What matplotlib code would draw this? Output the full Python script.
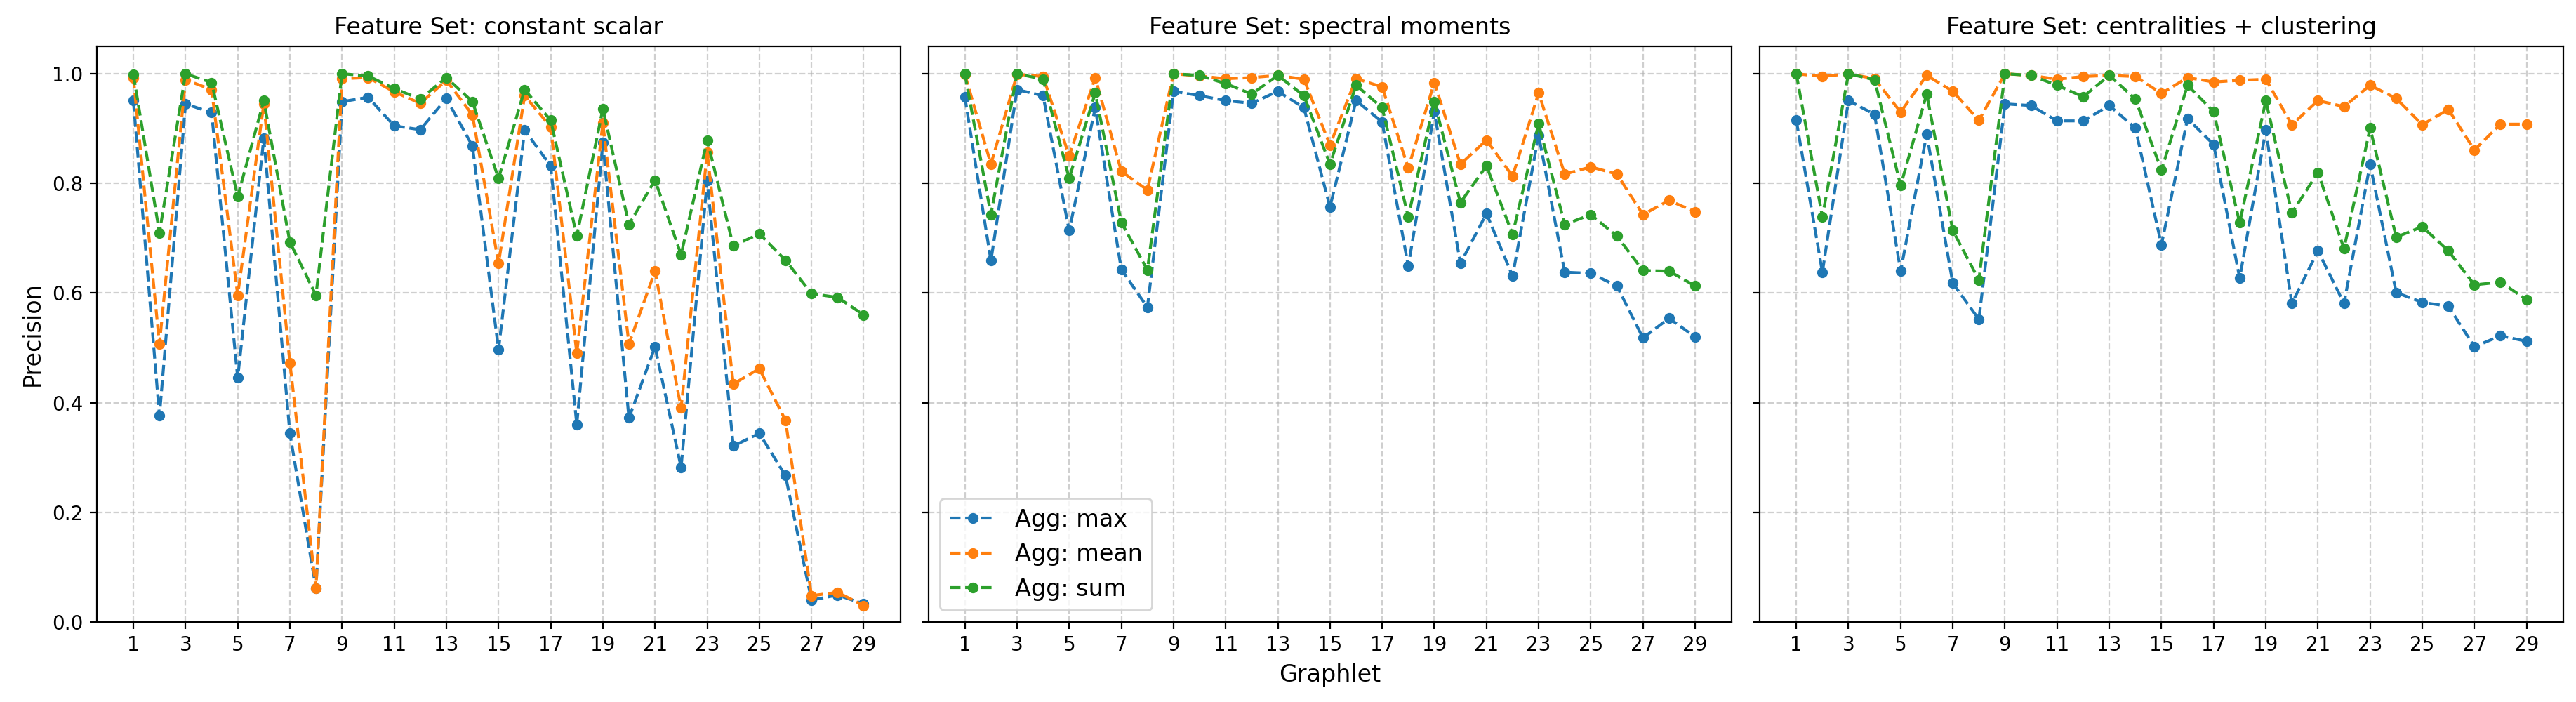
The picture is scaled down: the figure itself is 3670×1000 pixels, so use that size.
import matplotlib
matplotlib.use("Agg")
import matplotlib.pyplot as plt


# Graphlet ids 1..29
graphlets = list(range(1, 30))

feature_sets = ["constant scalar", "spectral moments", "centralities + clustering"]
aggs = ["max", "mean", "sum"]

# constant scalar
const_max = [0.951, 0.376, 0.945, 0.929, 0.445, 0.882, 0.344, 0.061, 0.949, 0.957,
             0.905, 0.898, 0.955, 0.868, 0.497, 0.897, 0.832, 0.360, 0.874, 0.372,
             0.502, 0.282, 0.805, 0.321, 0.344, 0.267, 0.040, 0.049, 0.033]
const_mean = [0.993, 0.507, 0.989, 0.971, 0.596, 0.945, 0.473, 0.061, 0.991, 0.993,
              0.967, 0.946, 0.988, 0.925, 0.654, 0.960, 0.903, 0.490, 0.910, 0.507,
              0.640, 0.390, 0.857, 0.434, 0.462, 0.368, 0.048, 0.054, 0.030]
const_sum = [0.999, 0.710, 1.000, 0.984, 0.776, 0.951, 0.693, 0.596, 1.000, 0.996,
             0.973, 0.954, 0.993, 0.949, 0.809, 0.971, 0.915, 0.704, 0.936, 0.725,
             0.806, 0.670, 0.879, 0.686, 0.708, 0.660, 0.599, 0.592, 0.560]

# spectral moments
spec_max = [0.958, 0.659, 0.971, 0.960, 0.714, 0.938, 0.643, 0.574, 0.968, 0.960,
            0.951, 0.946, 0.968, 0.938, 0.757, 0.951, 0.912, 0.649, 0.931, 0.654,
            0.745, 0.631, 0.888, 0.638, 0.636, 0.613, 0.518, 0.554, 0.520]
spec_mean = [0.999, 0.835, 0.999, 0.995, 0.850, 0.993, 0.822, 0.788, 1.000, 0.996,
             0.991, 0.993, 0.997, 0.990, 0.870, 0.991, 0.976, 0.828, 0.984, 0.835,
             0.879, 0.813, 0.965, 0.817, 0.830, 0.817, 0.743, 0.769, 0.748]
spec_sum = [1.000, 0.743, 1.000, 0.990, 0.809, 0.965, 0.729, 0.642, 1.000, 0.997,
            0.982, 0.963, 0.997, 0.960, 0.835, 0.979, 0.938, 0.739, 0.949, 0.765,
            0.832, 0.707, 0.909, 0.725, 0.743, 0.704, 0.641, 0.640, 0.613]

# centralities + clustering
cent_max = [0.915, 0.638, 0.951, 0.926, 0.640, 0.890, 0.618, 0.552, 0.945, 0.942,
            0.914, 0.914, 0.942, 0.901, 0.688, 0.918, 0.871, 0.627, 0.897, 0.581,
            0.677, 0.581, 0.835, 0.601, 0.583, 0.576, 0.502, 0.522, 0.512]
cent_mean = [1.000, 0.995, 1.000, 0.991, 0.930, 0.997, 0.968, 0.915, 1.000, 0.997,
             0.990, 0.995, 0.997, 0.995, 0.964, 0.993, 0.985, 0.988, 0.990, 0.907,
             0.951, 0.940, 0.979, 0.955, 0.907, 0.935, 0.861, 0.908, 0.908]
cent_sum = [1.000, 0.739, 1.000, 0.989, 0.796, 0.963, 0.714, 0.624, 1.000, 0.997,
            0.979, 0.958, 0.997, 0.954, 0.824, 0.979, 0.931, 0.728, 0.951, 0.746,
            0.820, 0.681, 0.901, 0.702, 0.721, 0.677, 0.615, 0.620, 0.588]

results = {
    "constant scalar": [const_max, const_mean, const_sum],
    "spectral moments": [spec_max, spec_mean, spec_sum],
    "centralities + clustering": [cent_max, cent_mean, cent_sum],
}

fig, axes = plt.subplots(1, 3, figsize=(18.35, 5), dpi=200, sharey=True)

for i, (ax, fs) in enumerate(zip(axes, feature_sets)):
    for agg, vals in zip(aggs, results[fs]):
        ax.plot(graphlets, vals, linestyle="--", marker="o", markersize=4.5,
                label=f"Agg: {agg}")
    ax.set_title(f"Feature Set: {fs}", fontsize=12)
    ax.set_xticks(graphlets[::2])
    ax.set_ylim(0, 1.05)
    ax.grid(linestyle="--", alpha=0.6)
    if i == 0:
        ax.set_ylabel("Precision", fontsize=12)
    if i == 1:
        ax.set_xlabel("Graphlet", fontsize=12)
        ax.legend(loc="lower left", fontsize=12)

plt.subplots_adjust(left=0.0376, right=0.995, bottom=0.114, top=0.934, wspace=0.035)
plt.savefig("out.png")
